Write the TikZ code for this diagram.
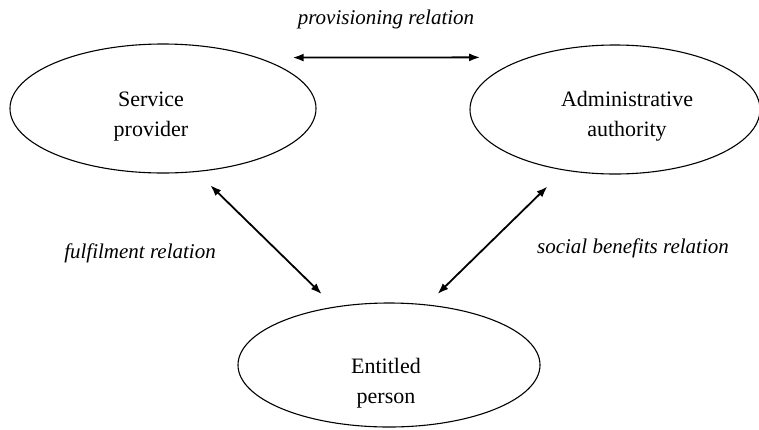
\documentclass[tikz,border=0pt]{standalone}
\usepackage{fontspec}
\setmainfont{Liberation Serif}
\usetikzlibrary{shapes.geometric,arrows.meta}

\begin{document}
\begin{tikzpicture}[x=1pt, y=-1pt, >={Latex[length=11pt,width=8pt]},
		party/.style={ellipse, draw, line width=1.1pt, inner sep=0pt},
		partytext/.style={align=center, font=\fontsize{22}{30}\selectfont},
		rel/.style={<->, line width=1.8pt},
		rellabel/.style={anchor=base, font=\fontsize{21}{25}\selectfont\itshape}]
		\useasboundingbox (0,0) rectangle (759,429);
		% the three parties
		\node[party, minimum width=306pt, minimum height=129pt] (prov) at (163,108.5) {};
		\node[partytext] (provtext) at (151,117) {Service\\provider};
		\node[party, minimum width=290pt, minimum height=129pt] (auth) at (615,109.5) {};
		\node[partytext] (authtext) at (627,116) {Administrative\\authority};
		\node[party, minimum width=302pt, minimum height=124pt] (pers) at (389,365) {};
		\node[partytext] (perstext) at (386,383) {Entitled\\person};
		% relations
		\draw[rel, shorten <=34pt, shorten >=48pt] (prov.28) -- (auth.149);
		\draw[rel, shorten <=19pt, shorten >=18pt] (prov.-62) -- (pers.133);
		\draw[rel, shorten <=23pt, shorten >=15pt] (auth.-130) -- (pers.58);
		\node[rellabel] (provlabel) at (386,24) {provisioning relation};
		\node[rellabel] (fulflabel) at (140,258) {fulfilment relation};
		\node[rellabel] (benlabel) at (633,253) {social benefits relation};
	\end{tikzpicture}
\end{document}
